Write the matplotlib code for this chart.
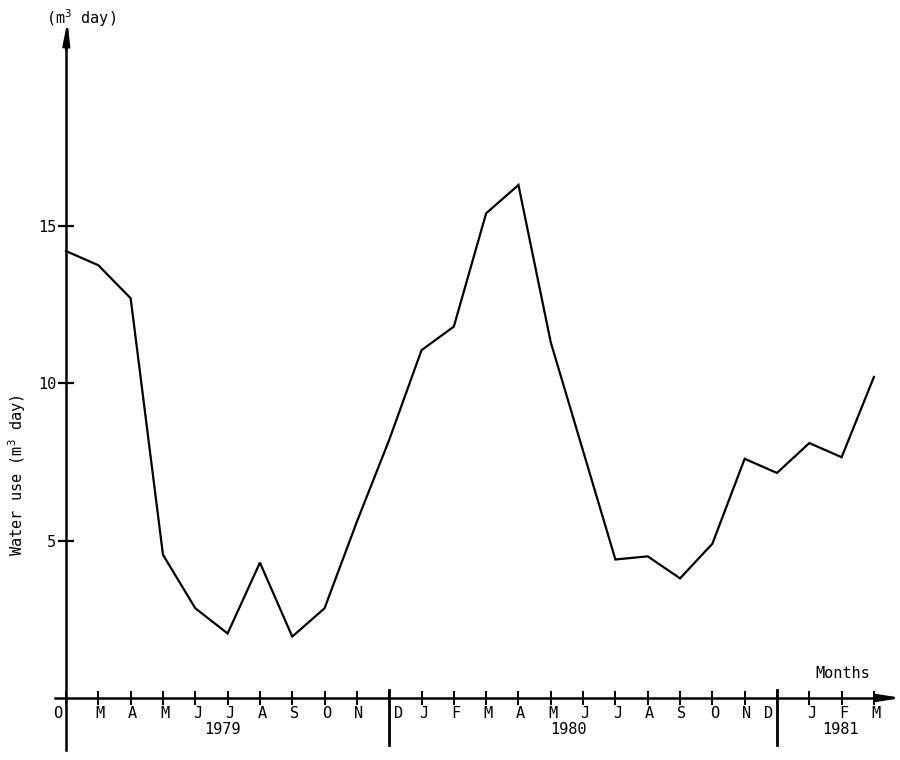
import numpy as np
import matplotlib
matplotlib.use('Agg')
from matplotlib import pyplot as plt
from matplotlib.transforms import ScaledTranslation

plt.rcParams['font.family'] = ['DejaVu Sans Mono']
plt.rcParams['mathtext.default'] = 'regular'

# monthly water use, Feb 1979 .. Mar 1981
months = ['O', 'M', 'A', 'M', 'J', 'J', 'A', 'S', 'O', 'N', 'D',
          'J', 'F', 'M', 'A', 'M', 'J', 'J', 'A', 'S', 'O', 'N', 'D',
          'J', 'F', 'M']
water_use = [14.2, 13.75, 12.7, 4.55, 2.85, 2.05, 4.3, 1.95, 2.85, 5.6, 8.2,
             11.05, 11.8, 15.4, 16.3, 11.3, 7.85, 4.4, 4.5, 3.8, 4.9, 7.6, 7.15,
             8.1, 7.65, 10.2]
y_ticks = [5, 10, 15]
years = ['1979', '1980', '1981']
year_dividers = [10, 22]

fig = plt.figure(figsize=(9, 7.6), dpi=100)
ax = fig.add_axes([0.0608, 0.0133, 0.921, 0.9379])

x = np.arange(len(months))
ax.plot(x, water_use, color='black', lw=1.6, solid_joinstyle='miter')

ax.set_xlim(-0.35, 25.3)
ax.set_ylim(-1.65, 21.0)

#axes through the origin
for side in ['top', 'right']:
    ax.spines[side].set_visible(False)
ax.spines['left'].set_position(('data', 0))
ax.spines['bottom'].set_position(('data', 0))
ax.spines['left'].set_linewidth(1.8)
ax.spines['bottom'].set_linewidth(1.8)

#arrow heads
ax.annotate('', xy=(25.95, 0), xytext=(25.0, 0),
            arrowprops=dict(arrowstyle='-|>,head_length=1.4,head_width=0.22',
                            color='black', lw=1.8), annotation_clip=False)
ax.annotate('', xy=(0.05, 21.6), xytext=(0.0, 20.5),
            arrowprops=dict(arrowstyle='-|>,head_length=1.3,head_width=0.2',
                            color='black', lw=1.8), annotation_clip=False)

ax.set_xticks(x)
ax.set_xticklabels(months, fontsize=11)
ax.tick_params(axis='x', direction='inout', length=10, width=1.4, pad=1)
ax.set_yticks(y_ticks)
ax.set_yticklabels([str(t) for t in y_ticks], fontsize=11)
ax.tick_params(axis='y', direction='inout', length=12, width=1.6, pad=1)

#nudge some month labels like the hand lettering
shifts = {0: -8, 10: 9, 22: -8}
for i, lab in enumerate(ax.get_xticklabels()):
    dx = shifts.get(i, 2)
    lab.set_transform(lab.get_transform() + ScaledTranslation(dx / 100, 0, fig.dpi_scale_trans))

#year dividers
for d in year_dividers:
    ax.plot([d, d], [0.25, -1.5], color='black', lw=2.0, clip_on=False)

year_pos = [4.83, 15.55, 23.95]
for label, xp in zip(years, year_pos):
    ax.text(xp, -1.0, label, ha='center', va='center', fontsize=11)

fig.text(843 / 900, 1 - 674 / 760, 'Months', ha='center', va='center', fontsize=11)
fig.text(81 / 900, 1 - 18 / 760, '(m$^3$ day)', ha='center', va='center', fontsize=11)
fig.text(17 / 900, 1 - 475 / 760, 'Water use (m$^3$ day)', ha='center', va='center',
         rotation=90, fontsize=11)

plt.savefig('out.png', dpi=100)
